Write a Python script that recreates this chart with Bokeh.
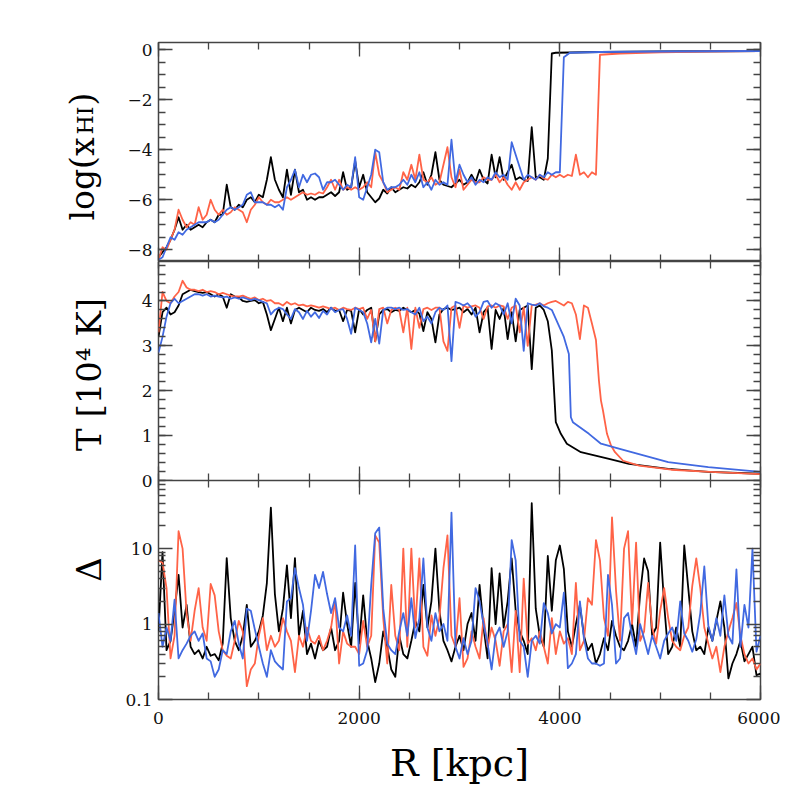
import math
from bokeh.plotting import figure
from bokeh.models import (LinearAxis, LogAxis, Range1d, SingleIntervalTicker, FixedTicker,
                          CustomJSTickFormatter, Label)
from bokeh.layouts import column, row
from bokeh.embed import file_html
from bokeh.resources import INLINE

# ---------------------------------------------------------------- data
STEP = 40  # kpc spacing of the tabulated (noisy) parts

# overdensity Delta, R = 0 .. 6000 kpc
delta_black = [
    0.8, 9, 0.45, 0.6, 1.5, 4.5, 0.9, 1.8, 0.5, 0.4,
    0.45, 0.35, 0.5, 0.38, 0.4, 0.33, 0.55, 7.5, 1.2, 0.6,
    0.45, 0.7, 1.8, 0.5, 0.6, 0.8, 1.3, 3.5, 35, 2.5,
    0.8, 1.6, 6, 1.2, 7.5, 0.7, 1.5, 0.4, 0.55, 0.35,
    0.6, 0.45, 0.5, 0.9, 0.45, 0.6, 2.6, 1.0, 0.5, 3.5,
    0.55, 2.4, 0.6, 0.35, 0.17, 0.3, 0.8, 0.5, 0.25, 0.2,
    0.7, 0.4, 0.35, 0.6, 1.1, 0.8, 3.3, 0.9, 2, 10,
    1.5, 0.6, 0.45, 0.32, 0.5, 0.7, 0.45, 1.0, 1.4, 0.6,
    3.3, 0.9, 0.35, 5.5, 1.0, 4.7, 0.9, 2.0, 7.4, 1.5,
    0.8, 0.6, 0.4, 40, 1.6, 0.7, 0.5, 8, 1.5, 7,
    11, 5.4, 0.8, 0.5, 1.0, 1.8, 0.7, 0.45, 0.55, 0.3,
    0.4, 0.65, 0.45, 1.1, 0.7, 0.5, 0.45, 0.6, 1.0, 0.5,
    2.5, 7.4, 5, 0.7, 0.9, 12, 1.8, 0.4, 0.5, 0.9,
    0.5, 11, 3, 0.8, 0.45, 0.5, 0.4, 0.9, 0.6, 1.1,
    2.0, 0.9, 0.19, 0.3, 0.4, 0.6, 0.32, 0.4, 0.5, 0.21,
    0.22,
]
delta_red = [
    7, 6.5, 3.0, 0.35, 0.7, 17, 10, 1.4, 0.6, 1.5,
    3.0, 0.9, 0.6, 3.4, 2.4, 0.8, 0.45, 0.38, 0.35, 0.6,
    1.1, 0.8, 0.15, 0.25, 0.3, 0.7, 1.2, 0.45, 0.7, 0.5,
    0.6, 1.2, 0.8, 0.6, 0.23, 0.7, 0.5, 0.9, 0.6, 0.55,
    0.7, 0.45, 0.6, 0.9, 2.1, 0.3, 0.8, 0.55, 0.5, 0.5,
    0.4, 1.1, 0.5, 0.7, 15, 12, 1.2, 0.3, 3.3, 0.7,
    0.45, 10, 0.5, 10, 0.9, 7.4, 0.5, 0.38, 1.3, 0.7,
    1.2, 5.5, 15, 0.7, 0.5, 2.2, 0.27, 0.35, 0.8, 0.5,
    0.35, 1.2, 0.5, 0.9, 0.6, 0.28, 0.8, 1.0, 0.23, 1.5,
    0.23, 4, 0.55, 0.65, 0.45, 0.8, 0.5, 0.3, 1.2, 0.4,
    0.8, 0.55, 0.65, 0.4, 3.5, 0.45, 0.6, 2.2, 1.8, 13,
    7, 1.2, 0.7, 26, 2.8, 0.6, 10, 17, 1.0, 12,
    0.6, 0.8, 3.5, 0.9, 0.55, 1.5, 3.0, 1.2, 0.6, 0.5,
    0.45, 0.7, 0.9, 3.2, 7.4, 3.0, 0.9, 0.55, 0.35, 0.5,
    0.23, 0.5, 0.8, 1.2, 1.9, 0.7, 0.4, 0.3, 0.35, 0.25,
    0.3,
]
delta_blue = [
    1.4, 0.5, 0.9, 0.6, 2.1, 0.35, 0.45, 0.55, 0.7, 0.8,
    0.6, 0.75, 0.35, 0.32, 0.2, 0.25, 0.45, 0.4, 0.8, 1.1,
    0.55, 0.35, 1.6, 1.5, 0.85, 0.5, 0.3, 0.2, 0.45, 0.32,
    0.28, 0.25, 2.0, 2.2, 5.5, 3.0, 1.8, 0.6, 1.5, 4.5,
    3.0, 4.9, 2.5, 1.4, 2.2, 0.9, 0.8, 1.3, 0.7, 11,
    0.28, 0.3, 0.45, 3.3, 16, 19, 1.6, 0.55, 0.45, 0.4,
    0.8, 1.4, 0.7, 2.2, 0.65, 1.2, 7.4, 0.9, 0.6, 1.4,
    0.8, 1.0, 0.6, 30, 0.5, 0.35, 0.65, 0.4, 0.6, 3,
    2.0, 1.0, 0.55, 0.25, 0.7, 0.9, 0.5, 0.8, 13, 7,
    0.6, 0.5, 0.2, 0.6, 0.7, 0.55, 1.9, 1.4, 0.75, 1.0,
    0.9, 2.6, 0.26, 0.3, 0.4, 2.0, 0.65, 0.35, 0.3, 0.3,
    0.28, 0.3, 4.5, 1.8, 0.3, 0.35, 1.2, 1.4, 0.7, 0.4,
    1.0, 0.64, 0.4, 0.7, 0.5, 0.35, 0.6, 0.75, 0.9, 0.6,
    2.0, 0.75, 0.6, 0.43, 0.63, 1.4, 5.8, 0.96, 0.6, 1.2,
    0.7, 2.4, 0.7, 0.55, 5.3, 0.5, 1.8, 0.9, 10, 0.43,
    0.7,
]

# log(x_HI): tabulated part from R = 0, then sparse points along the plateau
xhi_black = [
    -8.3, -8.1, -7.9, -7.6, -7.2, -6.7, -7.2, -7.0, -7.2, -7.1,
    -7.0, -7.1, -6.9, -6.8, -6.9, -6.6, -6.6, -5.4, -6.3, -6.4,
    -6.2, -6.3, -6.0, -5.9, -6.1, -5.8, -5.9, -5.2, -4.3, -5.2,
    -5.6, -5.9, -4.8, -5.8, -4.8, -5.7, -5.6, -6.0, -5.9, -6.0,
    -5.9, -5.9, -5.8, -5.7, -5.85, -5.7, -4.9, -5.6, -5.5, -4.45,
    -5.5, -5.0, -5.7, -5.9, -6.1, -5.95, -5.6, -5.75, -5.5, -5.7,
    -5.6, -5.5, -5.55, -5.4, -5.5, -5.3, -4.9, -5.4, -5.0, -4.1,
    -5.2, -5.4, -5.45, -5.5, -5.35, -5.2, -5.4, -5.3, -5.0, -5.3,
    -4.8, -5.2, -5.35, -4.2, -5.1, -4.3, -5.2, -4.9, -4.6, -5.2,
    -5.1, -5.2, -5.25, -3.1, -5.1, -5.1, -5.2, -4.35, -0.15, -0.12,
]
xhi_black_tail_r = [4400, 5000, 5500, 6000]
xhi_black_tail = [-0.09, -0.07, -0.06, -0.05]

xhi_red = [
    -8.4, -7.9, -8.0, -7.6, -7.2, -6.4, -6.8, -7.1, -6.9, -7.0,
    -6.3, -6.8, -6.6, -6.0, -6.4, -6.6, -6.4, -6.6, -6.5, -6.3,
    -6.4, -6.5, -6.9, -6.4, -6.2, -5.9, -6.1, -6.2, -6.0, -6.1,
    -6.1, -6.0, -5.9, -6.0, -5.9, -5.8, -5.7, -5.8, -5.75, -5.8,
    -5.7, -5.75, -5.5, -5.2, -5.6, -5.2, -5.6, -5.5, -5.6, -5.5,
    -5.6, -5.5, -5.3, -5.5, -4.1, -5.0, -5.3, -5.7, -5.6, -5.5,
    -5.6, -4.9, -5.2, -4.6, -5.2, -4.2, -5.2, -5.3, -5.1, -5.4,
    -5.3, -4.6, -3.9, -5.1, -5.5, -4.8, -5.6, -5.4, -5.2, -5.3,
    -5.3, -5.1, -5.2, -5.2, -5.0, -5.3, -5.1, -5.4, -5.6, -5.3,
    -5.6, -5.3, -5.2, -5.1, -5.2, -5.0, -5.15, -5.2, -5.0, -5.1,
    -5.0, -5.1, -5.0, -5.05, -4.2, -5.0, -4.9, -5.1, -4.9, -5.0,
]
xhi_red_tail_r = [4400, 4600, 5000, 5500, 6000]
xhi_red_tail = [-0.2, -0.15, -0.1, -0.07, -0.05]

xhi_blue = [
    -8.4, -8.3, -7.9, -7.5, -7.6, -7.3, -7.4, -7.2, -7.1, -7.0,
    -6.9, -6.9, -6.9, -6.8, -6.9, -6.8, -6.6, -6.4, -6.3, -6.4,
    -6.3, -6.2, -5.8, -5.7, -6.1, -6.1, -6.1, -6.2, -6.2, -6.3,
    -6.2, -6.4, -5.5, -5.2, -4.8, -5.5, -5.0, -5.3, -5.0, -4.95,
    -5.1, -5.6, -5.3, -5.3, -5.2, -5.4, -5.6, -5.4, -5.5, -4.3,
    -5.9, -6.0, -5.5, -5.0, -4.0, -4.1, -5.3, -5.6, -5.5, -5.5,
    -5.4, -5.2, -5.4, -5.0, -5.3, -4.9, -5.5, -5.3, -5.6, -5.2,
    -5.4, -5.3, -5.4, -3.6, -5.3, -4.6, -5.0, -5.3, -5.1, -5.4,
    -5.2, -5.3, -5.1, -5.2, -4.9, -5.1, -5.0, -5.2, -3.7, -4.2,
    -4.7, -5.2, -5.0, -5.1, -5.2, -5.0, -5.1, -4.9, -5.0, -4.9,
    -4.9,
]
xhi_blue_tail_r = [4040, 4100, 4400, 5000, 5500, 6000]
xhi_blue_tail = [-0.3, -0.12, -0.09, -0.07, -0.06, -0.05]

# temperature T [1e4 K]
t_black = [
    3.2, 3.75, 3.85, 3.7, 3.75, 3.9, 4.15, 4.2, 4.25, 4.22,
    4.2, 4.18, 4.2, 4.15, 4.1, 4.15, 4.1, 3.85, 4.15, 4.1,
    4.08, 4.0, 3.98, 4.0, 4.02, 3.95, 3.98, 3.7, 3.35, 3.6,
    3.85, 3.55, 3.85, 3.5, 3.8, 3.85, 3.8, 3.75, 3.85, 3.8,
    3.78, 3.82, 3.75, 3.85, 3.78, 3.8, 3.55, 3.8, 3.78, 3.3,
    3.82, 3.7, 3.8, 3.85, 3.1, 3.7, 3.8, 3.82, 3.75, 3.8,
    3.78, 3.85, 3.8, 3.75, 3.8, 3.72, 3.33, 3.75, 3.6, 3.08,
    3.7, 3.82, 3.85, 3.8, 3.82, 3.85, 3.75, 3.82, 3.7, 3.85,
    3.3, 3.75, 3.85, 2.93, 3.8, 3.6, 3.85, 3.15, 3.75, 3.1,
    3.8, 3.85, 3.9, 2.48, 3.85, 3.9, 3.8, 3.55, 2.9, 1.3,
]
t_black_tail_r = [4010, 4070, 4210, 4490, 4690, 5080, 5480, 6000]
t_black_tail = [1.04, 0.82, 0.63, 0.48, 0.37, 0.26, 0.19, 0.15]

t_red = [
    3.3, 4.2, 4.0, 3.95, 4.1, 4.2, 4.45, 4.3, 4.25, 4.25,
    4.22, 4.25, 4.2, 4.22, 4.2, 4.15, 4.18, 4.15, 4.12, 4.1,
    4.1, 4.12, 4.08, 4.05, 4.08, 4.02, 4.05, 4.0, 4.02, 3.95,
    3.95, 3.9, 3.98, 3.92, 3.95, 3.9, 3.92, 3.88, 3.9, 3.88,
    3.85, 3.88, 3.85, 3.82, 3.85, 3.8, 3.85, 3.82, 3.8, 3.85,
    3.82, 3.85, 3.6, 3.8, 3.1, 3.82, 3.85, 3.5, 3.8, 3.85,
    3.8, 3.3, 3.85, 2.93, 3.85, 3.4, 3.82, 3.85, 3.8, 3.85,
    3.85, 3.1, 2.89, 3.85, 3.9, 3.4, 3.9, 3.85, 3.88, 3.9,
    3.85, 3.6, 3.88, 3.9, 3.85, 3.9, 3.88, 3.6, 3.85, 3.9,
    3.3, 3.85, 3.0, 3.9, 3.92, 3.95, 3.9, 3.95, 3.98, 4.0,
    3.95, 3.9, 3.98, 3.95, 3.7, 3.15, 3.9, 3.85, 3.5, 3.13,
]
t_red_tail_r = [4390, 4410, 4430, 4470, 4510, 4550, 4630, 4790, 5110, 5500, 6000]
t_red_tail = [2.22, 1.78, 1.56, 1.04, 0.78, 0.63, 0.44, 0.33, 0.24, 0.19, 0.14]

t_blue = [
    2.85, 3.2, 3.65, 3.95, 4.05, 3.95, 4.0, 4.05, 4.1, 4.15,
    4.15, 4.12, 4.15, 4.1, 4.12, 4.1, 4.08, 4.1, 4.05, 4.08,
    4.05, 4.08, 4.05, 4.02, 4.05, 4.02, 3.98, 3.95, 3.7, 3.8,
    3.85, 3.82, 3.7, 3.6, 3.82, 3.75, 3.6, 3.78, 3.65, 3.75,
    3.62, 3.78, 3.7, 3.85, 3.75, 3.8, 3.82, 3.6, 3.27, 3.85,
    3.8, 3.75, 3.5, 3.08, 3.6, 3.05, 3.8, 3.85, 3.85, 3.82,
    3.85, 3.8, 3.82, 3.75, 3.7, 3.85, 3.55, 3.65, 3.5, 3.75,
    3.85, 3.8, 3.9, 2.66, 3.98, 3.95, 3.9, 3.95, 3.85, 3.65,
    3.75, 3.98, 4.0, 3.85, 3.95, 3.9, 3.7, 3.95, 3.5, 4.05,
    3.9, 2.89, 3.95, 3.92, 3.9, 3.95, 3.88, 3.85, 3.8, 3.6,
    3.4, 3.2,
]
t_blue_tail_r = [4090, 4110, 4130, 4290, 4410, 4570, 4770, 5080, 5480, 6000]
t_blue_tail = [2.82, 1.41, 1.3, 1.04, 0.82, 0.72, 0.6, 0.41, 0.3, 0.19]

# --------------------------------------------------------------- style
COLORS = {"black": "#000000", "red": "#FF6347", "blue": "#4169E1"}
FONT = "DejaVu Serif"
FRAME_W, FRAME_H = 602, 219
TITLE_W = 112          # strip on the left that carries the y titles
LEFT, RIGHT = 158 - TITLE_W, 20
EDGE = "#444444"
OVERLAP = 12
PAGE_H = 790


def grid_r(vals, tail_r=()):
    return [STEP * i for i in range(len(vals))] + list(tail_r)


def style_axis(ax, labels):
    ax.major_tick_in = 14
    ax.major_tick_out = 0
    ax.minor_tick_in = 7
    ax.minor_tick_out = 0
    ax.axis_line_color = None
    ax.major_tick_line_color = EDGE
    ax.minor_tick_line_color = EDGE
    ax.major_tick_line_width = 1.3
    ax.minor_tick_line_width = 1.3
    if labels:
        ax.major_label_text_font = FONT
        ax.major_label_text_font_size = "17px"
        ax.major_label_text_color = "#111111"
        ax.major_label_standoff = 6
    else:
        ax.formatter = CustomJSTickFormatter(code="return ''")
        ax.major_label_text_font_size = "1px"
        ax.major_label_standoff = 0
        ax.axis_label = None


def make_panel(y_range, yticker, log=False, top_border=0, bottom_border=0,
               x_labels=False, yformatter=None):
    p = figure(frame_width=FRAME_W, frame_height=FRAME_H,
               x_range=Range1d(0, 6000), y_range=y_range,
               y_axis_type="log" if log else "linear",
               output_backend="svg", toolbar_location=None,
               min_border_left=LEFT, min_border_right=RIGHT,
               min_border_top=top_border, min_border_bottom=bottom_border,
               background_fill_color="white", border_fill_color="white",
               outline_line_color=EDGE, outline_line_width=1.5)
    p.grid.visible = False
    bottom = p.below[0]
    bottom.ticker = SingleIntervalTicker(interval=2000, num_minor_ticks=4)
    style_axis(bottom, x_labels)
    left = p.left[0]
    left.ticker = yticker
    if yformatter is not None:
        left.formatter = yformatter
    style_axis(left, True)
    top = LinearAxis(ticker=SingleIntervalTicker(interval=2000, num_minor_ticks=4))
    style_axis(top, False)
    p.add_layout(top, "above")
    right = (LogAxis if log else LinearAxis)(ticker=yticker)
    style_axis(right, False)
    p.add_layout(right, "right")
    return p, bottom


def add_lines(p, data):
    for name, (xs, ys) in data:
        p.line(xs, ys, line_color=COLORS[name], line_width=1.8, line_join="round")


# --------------------------------------------------------------- panel 1
p1, _ = make_panel(Range1d(-8.47, 0.29), SingleIntervalTicker(interval=2, num_minor_ticks=4),
                   top_border=42)
add_lines(p1, [
    ("black", (grid_r(xhi_black, xhi_black_tail_r), xhi_black + xhi_black_tail)),
    ("red", (grid_r(xhi_red, xhi_red_tail_r), xhi_red + xhi_red_tail)),
    ("blue", (grid_r(xhi_blue, xhi_blue_tail_r), xhi_blue + xhi_blue_tail)),
])

# --------------------------------------------------------------- panel 2
p2, _ = make_panel(Range1d(0, 4.88), SingleIntervalTicker(interval=1, num_minor_ticks=5),
                   bottom_border=OVERLAP)
add_lines(p2, [
    ("black", (grid_r(t_black, t_black_tail_r), t_black + t_black_tail)),
    ("red", (grid_r(t_red, t_red_tail_r), t_red + t_red_tail)),
    ("blue", (grid_r(t_blue, t_blue_tail_r), t_blue + t_blue_tail)),
])

# --------------------------------------------------------------- panel 3
d_minor = [0.2, 0.3, 0.4, 0.5, 0.6, 0.7, 0.8, 0.9, 2, 3, 4, 5, 6, 7, 8, 9,
           20, 30, 40, 50, 60, 70, 80]
p3, xa = make_panel(Range1d(0.1, 80), FixedTicker(ticks=[0.1, 1, 10], minor_ticks=d_minor),
                    log=True, bottom_border=80, x_labels=True,
                    yformatter=CustomJSTickFormatter(code="return tick.toString()"))
p3.border_fill_color = None          # lets the "0" of the T panel show through
p3.margin = (-OVERLAP, 0, 0, 0)      # frames of panels 2 and 3 share their edge
xa.major_label_standoff = 12
xa.axis_label = "R [kpc]"
xa.axis_label_text_font = FONT
xa.axis_label_text_font_size = "38px"
xa.axis_label_text_font_style = "normal"
xa.axis_label_text_color = "black"
xa.axis_label_standoff = 14

add_lines(p3, [
    ("black", (grid_r(delta_black), delta_black)),
    ("red", (grid_r(delta_red), delta_red)),
    ("blue", (grid_r(delta_blue), delta_blue)),
])

# --------------------------------------------------------------- y titles strip
tf = figure(frame_width=TITLE_W, frame_height=PAGE_H, x_range=Range1d(0, TITLE_W),
            y_range=Range1d(0, PAGE_H), x_axis_location=None, y_axis_location=None,
            min_border=0, outline_line_color=None, toolbar_location=None,
            output_backend="svg", background_fill_color="white", border_fill_color="white")
tf.grid.visible = False


def title_text(text, x, page_y, size, align="center", baseline="middle"):
    tf.add_layout(Label(x=x, y=PAGE_H - page_y, x_units="screen", y_units="screen",
                        text=text, angle=math.pi / 2, text_font=FONT, text_font_size=size,
                        text_align=align, text_baseline=baseline, text_color="black"))


title_text("log(x", 82, 220, "33px", align="left", baseline="alphabetic")
title_text("HI", 85, 134, "22px", align="left", baseline="alphabetic")
title_text(")", 82, 105, "33px", align="left", baseline="alphabetic")
title_text("T [10\u2074 K]", 88, 374, "34px")
title_text("\u0394", 88, 569, "34px")

layout = row(tf, column(p1, p2, p3, spacing=0), spacing=0)
open("out.html", "w").write(file_html(layout, INLINE))
